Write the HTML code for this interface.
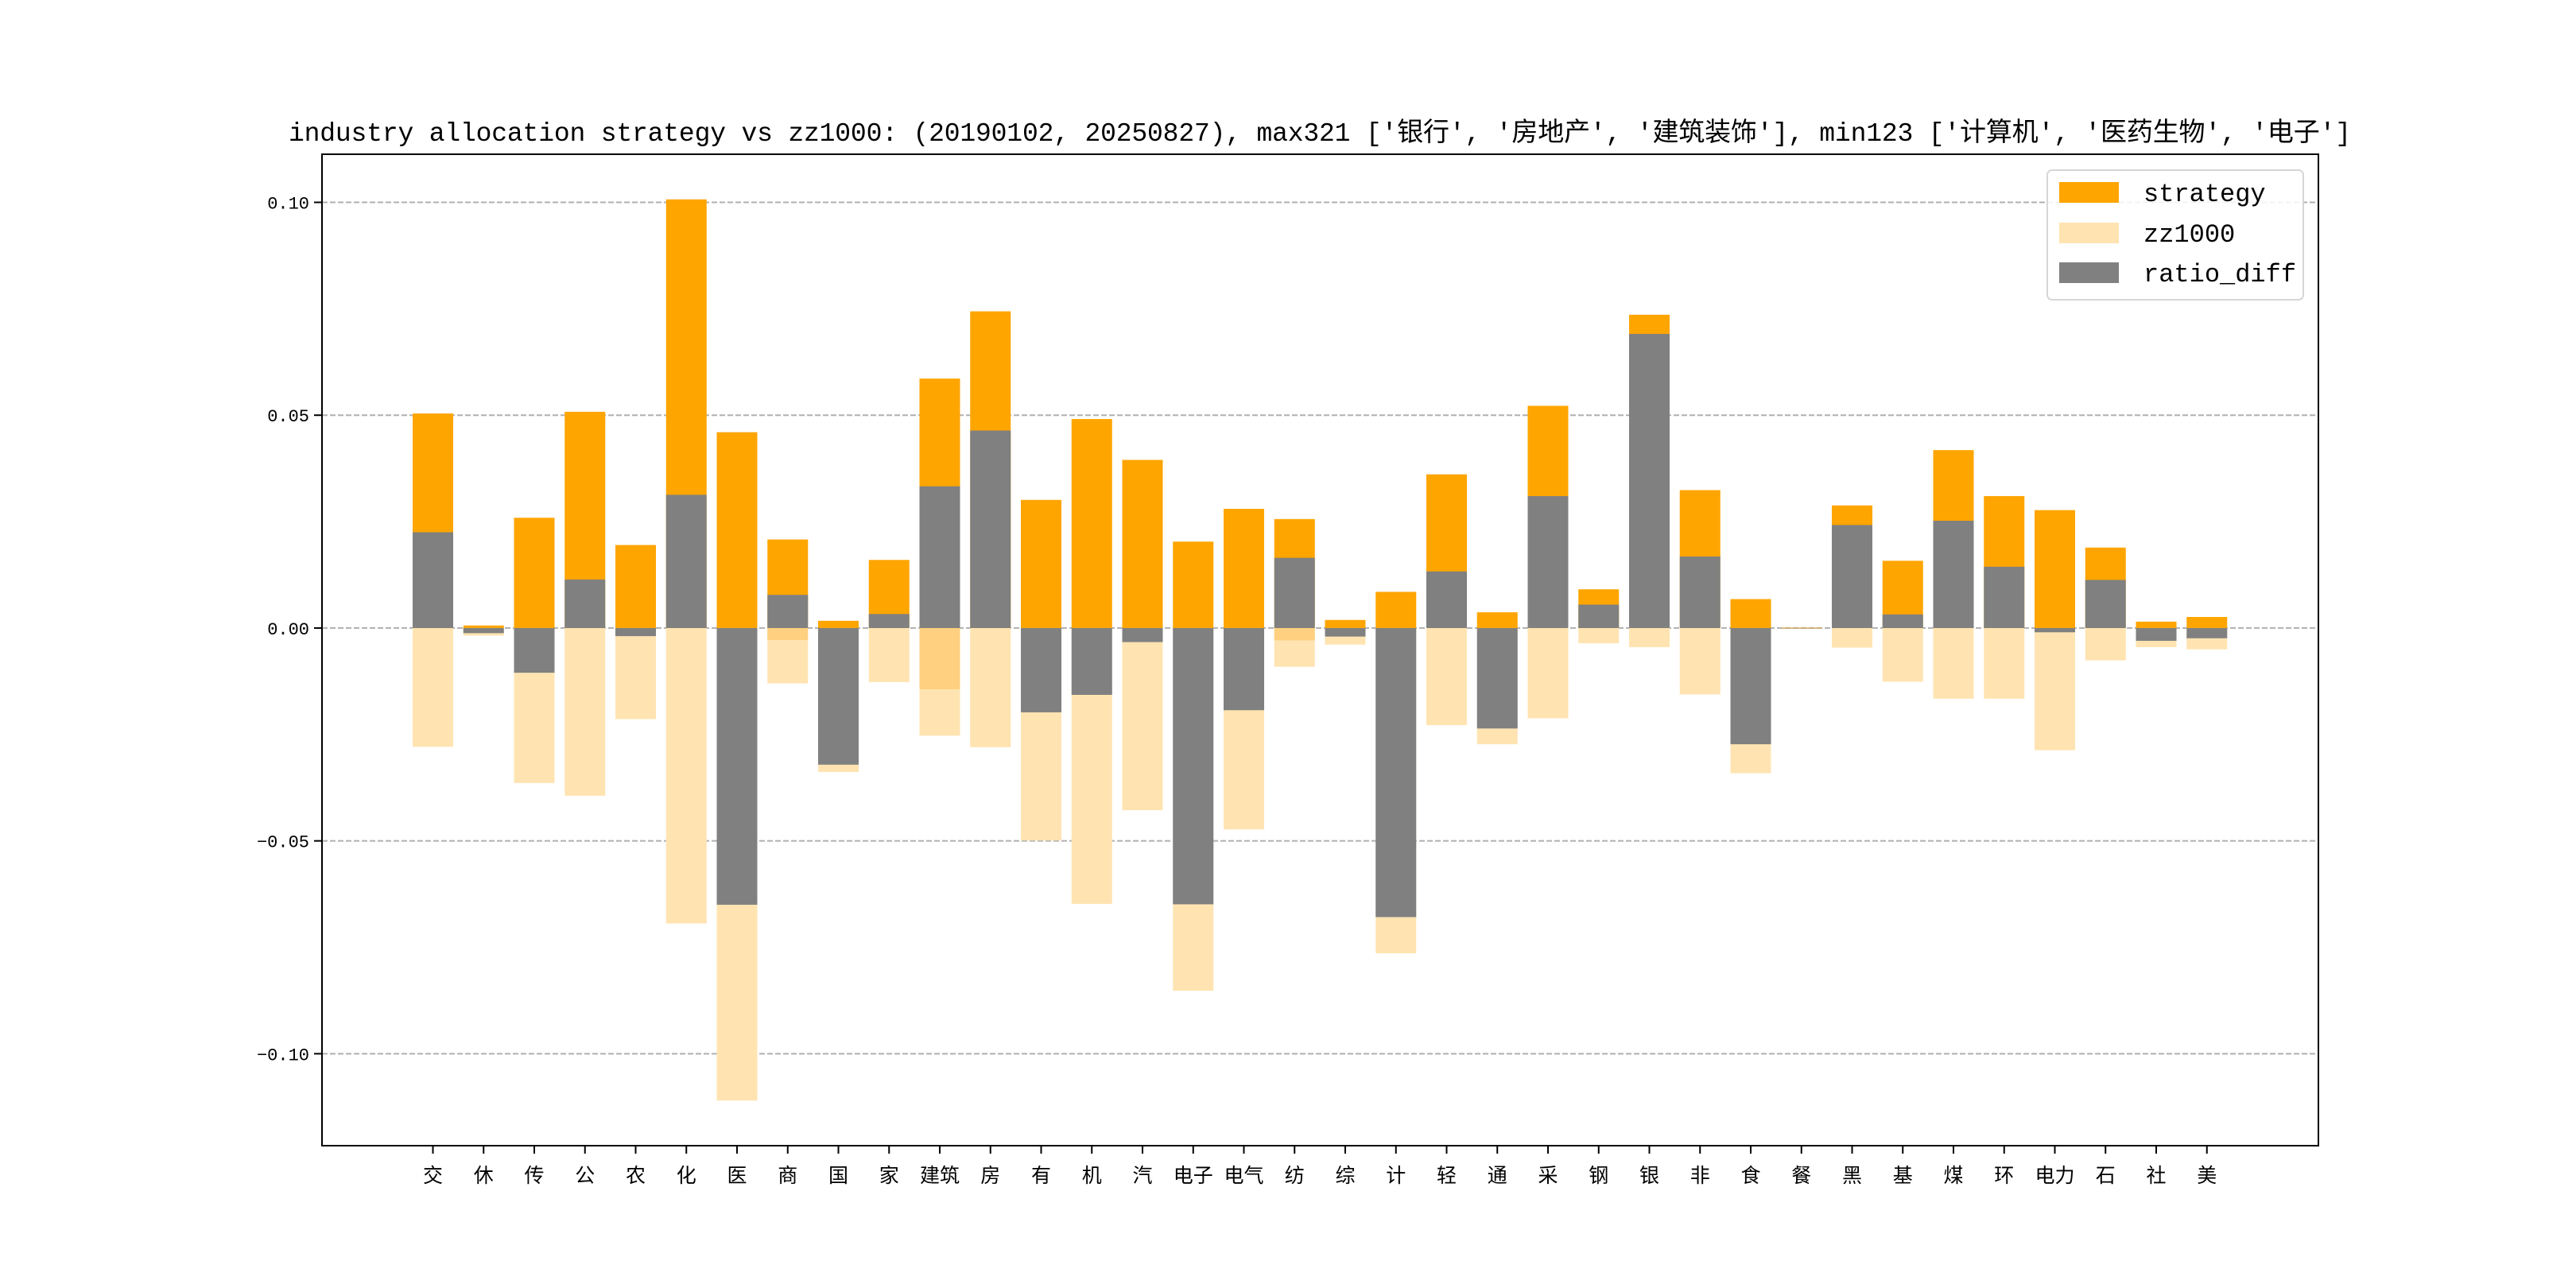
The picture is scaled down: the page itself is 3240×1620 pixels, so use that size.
<!DOCTYPE html>
<html><head><meta charset="utf-8">
<style>
html,body{margin:0;padding:0;background:#fff;}
svg{display:block;}
text{font-family:"Liberation Mono","Noto Sans CJK SC",monospace;}
</style></head>
<body>
<svg id="chart" width="3240" height="1620" viewBox="0 0 3240 1620" xmlns="http://www.w3.org/2000/svg">
<rect x="0" y="0" width="3240" height="1620" fill="#fff"/>
<text x="1660" y="177" text-anchor="middle" font-size="33" textLength="2594" lengthAdjust="spacing">industry allocation strategy vs zz1000: (20190102, 20250827), max321 ['银行', '房地产', '建筑装饰'], min123 ['计算机', '医药生物', '电子']</text>
<g id="grid"></g>
<g id="bars"></g>
<g id="axes"></g>
<g id="legend">
  <rect x="2575" y="214" width="322" height="163" rx="6" fill="#fff" fill-opacity="0.85" stroke="#d6d6d6" stroke-width="2"/>
  <g>
    <rect x="2590" y="229" width="75" height="26" fill="#ffa500"/>
    <text x="2696" y="253" font-size="32">strategy</text>
  </g>
  <g>
    <rect x="2590" y="280" width="75" height="26" fill="#ffe4b2"/>
    <text x="2696" y="304" font-size="32">zz1000</text>
  </g>
  <g>
    <rect x="2590" y="330" width="75" height="26" fill="#808080"/>
    <text x="2696" y="354" font-size="32">ratio_diff</text>
  </g>
</g>
</svg>
<script>
const categories = ['交','休','传','公','农','化','医','商','国','家','建筑','房','有','机','汽','电子','电气','纺','综','计','轻','通','采','钢','银','非','食','餐','黑','基','煤','环','电力','石','社','美'];
const strategy = [0.0504,0.0006,0.0259,0.0508,0.0195,0.1007,0.0460,0.0208,0.0017,0.0160,0.0586,0.0744,0.0301,0.0491,0.0395,0.0203,0.0280,0.0256,0.0019,0.0085,0.0361,0.0037,0.0522,0.0091,0.0736,0.0324,0.0068,0.0001,0.0288,0.0158,0.0418,0.0310,0.0277,0.0189,0.0015,0.0026];
const zz1000 = [0.0279,0.0018,0.0364,0.0394,0.0214,0.0694,0.1110,0.0130,0.0338,0.0127,0.0253,0.0280,0.0499,0.0648,0.0428,0.0852,0.0473,0.0091,0.0039,0.0764,0.0228,0.0273,0.0212,0.0036,0.0045,0.0156,0.0341,0.0002,0.0046,0.0126,0.0166,0.0166,0.0287,0.0076,0.0045,0.0050];
const overlap = [0,0,0,0,0,0,0,0.0028,0,0,0.0144,0,0,0,0,0,0,0.0029,0,0,0,0,0,0,0,0,0,0,0,0,0,0,0,0,0,0];
const yTicks = [0.10,0.05,0.00,-0.05,-0.10];
const yTickLabels = ['0.10','0.05','0.00','−0.05','−0.10'];

const NS='http://www.w3.org/2000/svg';
const L=405,R=2916,T=194,B=1441;
const yMin=-0.1216,yMax=0.1113;
function y(v){return T+(yMax-v)/(yMax-yMin)*(B-T);}
const x0=544.5, step=63.75, bw=51;
function xc(i){return x0+i*step;}
function mk(tag,attrs,parent){const e=document.createElementNS(NS,tag);for(const k in attrs)e.setAttribute(k,attrs[k]);parent.appendChild(e);return e;}
const grid=document.getElementById('grid'),bars=document.getElementById('bars'),axes=document.getElementById('axes');

yTicks.forEach((v,i)=>{
  const gl=mk('line',{x1:L,x2:R,y1:y(v),y2:y(v),stroke:'#b0b0b0','stroke-width':2,'stroke-dasharray':'7,3'},grid);
  
  
  const tk=mk('line',{x1:L-10,x2:L,y1:y(v),y2:y(v),stroke:'#000','stroke-width':2},axes);
  
  
  const t=mk('text',{x:L-16,y:y(v)+8,'text-anchor':'end','font-size':22},axes);
  t.textContent=yTickLabels[i];
  
  
});

function rect(x,v1,v2,fill,parent){
  const top=y(Math.max(v1,v2)),bot=y(Math.min(v1,v2));
  return mk('rect',{x:x-bw/2,y:top,width:bw,height:Math.max(bot-top,0.5),fill:fill},parent);
}
categories.forEach((c,i)=>{
  const x=xc(i);
  const zr=rect(x,0,-zz1000[i],'#ffe4b2',bars);
  
  
  if(overlap[i]>0){
    const o=rect(x,0,-overlap[i],'#fed080',bars);
    
    
  }
  const sr=rect(x,0,strategy[i],'#ffa500',bars);
  
  
  const d=strategy[i]-zz1000[i];
  const dr=rect(x,0,d,'#808080',bars);
  
  
  const tk=mk('line',{x1:x,x2:x,y1:B,y2:B+10,stroke:'#000','stroke-width':2},axes);
  
  
  const t=mk('text',{x:x,y:B+46,'text-anchor':'middle','font-size':25},axes);
  t.textContent=c;
  
  
});
const frame=mk('rect',{x:L,y:T,width:R-L,height:B-T,fill:'none',stroke:'#000','stroke-width':2},axes);


</script>
</body></html>
